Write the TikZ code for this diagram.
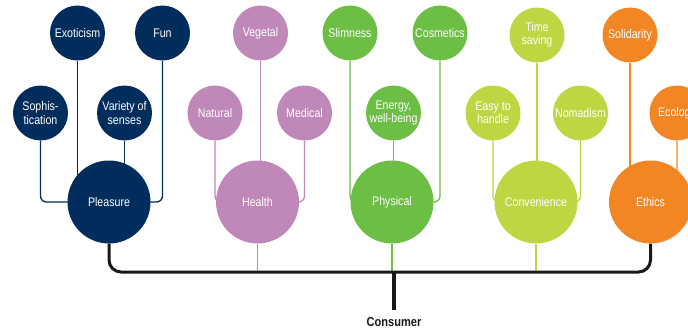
\documentclass[tikz,border=0pt]{standalone}
\usepackage{fontspec}
\setmainfont[FakeStretch=0.85]{Liberation Sans}
\usetikzlibrary{backgrounds}
\definecolor{navy}{HTML}{012D5D}
\definecolor{mauve}{HTML}{C087B9}
\definecolor{grn}{HTML}{6DBE45}
\definecolor{lime}{HTML}{BDD743}
\definecolor{orng}{HTML}{F28524}
\begin{document}
\begin{tikzpicture}[x=1pt,y=-1pt,
  bub/.style={circle,inner sep=0pt,minimum size=55pt,text=white,align=center,
    font=\fontsize{12.5}{13.5}\selectfont},
  big/.style={bub,minimum size=83pt},
  conn/.style={line width=1.3pt,rounded corners=6pt},
  brk/.style={line width=3pt,rounded corners=12pt,black!90}]
\useasboundingbox (0,0) rectangle (688,329);
\clip (0,0) rectangle (688,329);
% Pleasure
\node[big,fill=navy] (pleasure) at (109,202) {Pleasure};
\node[bub,fill=navy] (exo) at (77.5,33) {Exoticism};
\node[bub,fill=navy] (fun) at (162.5,33) {Fun};
\node[bub,fill=navy] (soph) at (40.5,113) {Sophis-\\tication};
\node[bub,fill=navy] (var) at (124.5,113) {Variety of\\senses};
% Health
\node[big,fill=mauve] (health) at (257.5,202) {Health};
\node[bub,fill=mauve] (veg) at (260.5,33) {Vegetal};
\node[bub,fill=mauve] (nat) at (215,113) {Natural};
\node[bub,fill=mauve] (med) at (304.5,113) {Medical};
% Physical
\node[big,fill=grn] (phys) at (392,202) {Physical};
\node[bub,fill=grn] (slim) at (350,33) {Slimness};
\node[bub,fill=grn] (cos) at (440,33) {Cosmetics};
\node[bub,fill=grn] (ener) at (393.5,113) {Energy,\\well-being};
% Convenience
\node[big,fill=lime] (conv) at (536,202) {Convenience};
\node[bub,fill=lime] (time) at (537,35) {Time\\saving};
\node[bub,fill=lime] (easy) at (493,113) {Easy to\\handle};
\node[bub,fill=lime] (noma) at (580.5,113) {Nomadism};
% Ethics
\node[big,fill=orng] (eth) at (650.5,202) {Ethics};
\node[bub,fill=orng] (soli) at (630,35) {Solidarity};
\node[bub,fill=orng] (eco) at (677,113) {Ecology};
% consumer
\coordinate (bl) at (0,272);
\coordinate (stem) at (394,272);
\coordinate (stemend) at (394,310);
\node[font=\bfseries\fontsize{13}{14}\selectfont,text=black!90] (cons) at (394,322) {Consumer};
\begin{scope}[on background layer]
  \draw[conn,navy] (soph.south) |- (pleasure.center);
  \draw[conn,navy] (exo.south) -- (exo.south |- pleasure.center);
  \draw[conn,navy] (var.south) -- (var.south |- pleasure.center);
  \draw[conn,navy] (fun.south) |- (pleasure.center);
  \draw[conn,mauve] (nat.south) |- (health.center);
  \draw[conn,mauve] (veg.south) -- (veg.south |- health.center);
  \draw[conn,mauve] (med.south) |- (health.center);
  \draw[conn,grn] (slim.south) |- (phys.center);
  \draw[conn,grn] (ener.south) -- (ener.south |- phys.center);
  \draw[conn,grn] (cos.south) |- (phys.center);
  \draw[conn,lime] (easy.south) |- (conv.center);
  \draw[conn,lime] (time.south) -- (time.south |- conv.center);
  \draw[conn,lime] (noma.south) |- (conv.center);
  \draw[conn,orng] (soli.south) -- (soli.south |- eth.center);
  \draw[conn,orng] (eco.south) |- (eth.center);
  \draw[conn,mauve] (health.south) -- (health.south |- bl);
  \draw[conn,grn] (phys.south) -- (phys.south |- bl);
  \draw[conn,lime] (conv.south) -- (conv.south |- bl);
  \draw[brk] (pleasure.south) |- (eth.south |- bl) -- (eth.south);
  \draw[line width=4pt,black!90] (stem) -- (stemend);
\end{scope}
\end{tikzpicture}
\end{document}
